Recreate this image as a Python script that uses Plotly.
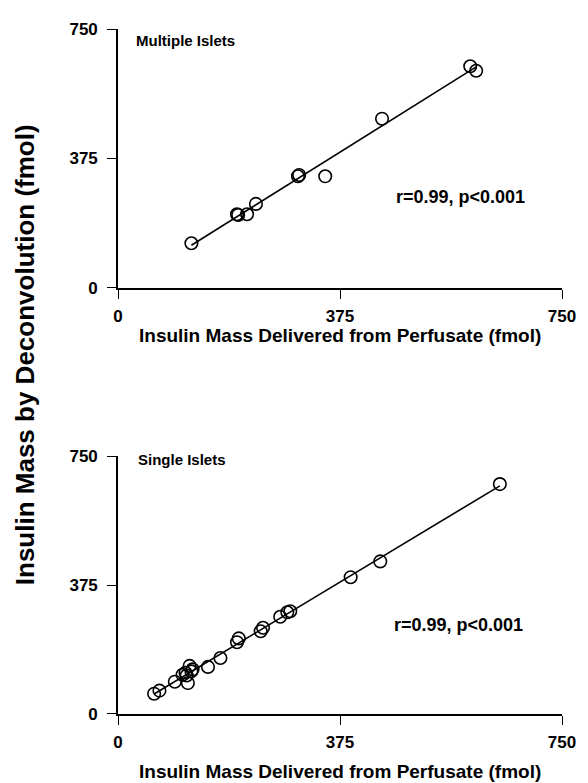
import numpy as np
import plotly.graph_objects as go

# ---- data ----
multi_x = [124, 201, 203, 218, 233, 304, 306, 350, 446, 595, 605]
multi_y = [129, 213, 211, 213, 243, 323, 327, 323, 490, 642, 629]

single_x = [61, 70, 96, 109, 114, 116, 118, 121, 124, 126, 152, 173, 201, 204,
            241, 245, 274, 286, 291, 393, 443, 645]
single_y = [59, 68, 94, 114, 120, 112, 90, 140, 124, 130, 137, 163, 209, 220,
            241, 251, 283, 296, 299, 398, 444, 669]

tick_vals = [0, 375, 750]
tick_text = ["0", "375", "750"]
panel_labels = ["Multiple Islets", "Single Islets"]
stat_text = "r=0.99, p<0.001"
x_title = "Insulin Mass Delivered from Perfusate (fmol)"
y_title = "Insulin Mass by Deconvolution (fmol)"

# page offset from default body margin
OFF = 8
W, H = 588 - OFF, 783 - OFF
# page-pixel plot edges
PL, PR = 117.5, 569
P_TOP_T, P_TOP_B = 23, 284
P_BOT_T, P_BOT_B = 454, 714

ML = PL - OFF
MR = W - (PR - OFF)
MT = P_TOP_T - OFF
MB = H - (P_BOT_B - OFF)
plot_h = H - MT - MB
plot_w = W - ML - MR

def py(pix):
    return ((P_BOT_B) - pix) / plot_h

def px(pix):
    return (pix - PL) / plot_w

top_dom = [py(P_TOP_B), 1.0]
bot_dom = [0.0, py(P_BOT_T)]

FONT = "Liberation Sans, Arial, sans-serif"

fig = go.Figure()

def add_panel(xs, ys, xa, ya):
    xs = np.array(xs, float)
    ys = np.array(ys, float)
    m, b = np.polyfit(xs, ys, 1)
    lx = np.array([xs.min(), xs.max()])
    fig.add_trace(go.Scatter(x=lx, y=m * lx + b, mode="lines",
                             line=dict(color="black", width=1.6),
                             xaxis=xa, yaxis=ya, showlegend=False, hoverinfo="skip"))
    fig.add_trace(go.Scatter(x=xs, y=ys, mode="markers",
                             marker=dict(symbol="circle-open", size=12.5, color="black",
                                         line=dict(width=1.6, color="black")),
                             xaxis=xa, yaxis=ya, showlegend=False))

add_panel(multi_x, multi_y, "x", "y")
add_panel(single_x, single_y, "x2", "y2")

axis_common = dict(range=[0, 750], tickvals=tick_vals, ticktext=tick_text,
                   showgrid=False, zeroline=False, showline=True, linecolor="black",
                   linewidth=1.6, ticks="outside", ticklen=9, tickwidth=1.4,
                   tickcolor="black",
                   tickfont=dict(family=FONT, size=17, color="black", weight="bold"))

fig.update_layout(
    width=W, height=H,
    margin=dict(l=ML, r=MR, t=MT, b=MB, pad=0),
    paper_bgcolor="white", plot_bgcolor="white",
    xaxis=dict(domain=[0, 1], anchor="y", ticklabelstandoff=3, **axis_common),
    yaxis=dict(domain=top_dom, anchor="x", ticklabelstandoff=6, **axis_common),
    xaxis2=dict(domain=[0, 1], anchor="y2", ticklabelstandoff=3, **axis_common),
    yaxis2=dict(domain=bot_dom, anchor="x2", ticklabelstandoff=6, **axis_common),
)

def txt(s, x, y, size, xanchor="left", angle=0):
    return dict(text="<b>" + s + "</b>", xref="paper", yref="paper",
                x=px(x), y=py(y), xanchor=xanchor, yanchor="middle",
                textangle=angle, showarrow=False,
                font=dict(family=FONT, size=size, color="black"))

annots = [
    txt(panel_labels[0], 134, 35, 15),
    txt(panel_labels[1], 136, 457, 15),
    txt(stat_text, 398, 192, 18),
    txt(stat_text, 396, 624, 18),
    txt(x_title, 343, 332, 19, xanchor="center"),
    txt(x_title, 343, 772, 19, xanchor="center"),
    txt(y_title, 23, 352, 26, xanchor="center", angle=-90),
]

fig.update_layout(annotations=annots)

fig.write_html("out.html")
